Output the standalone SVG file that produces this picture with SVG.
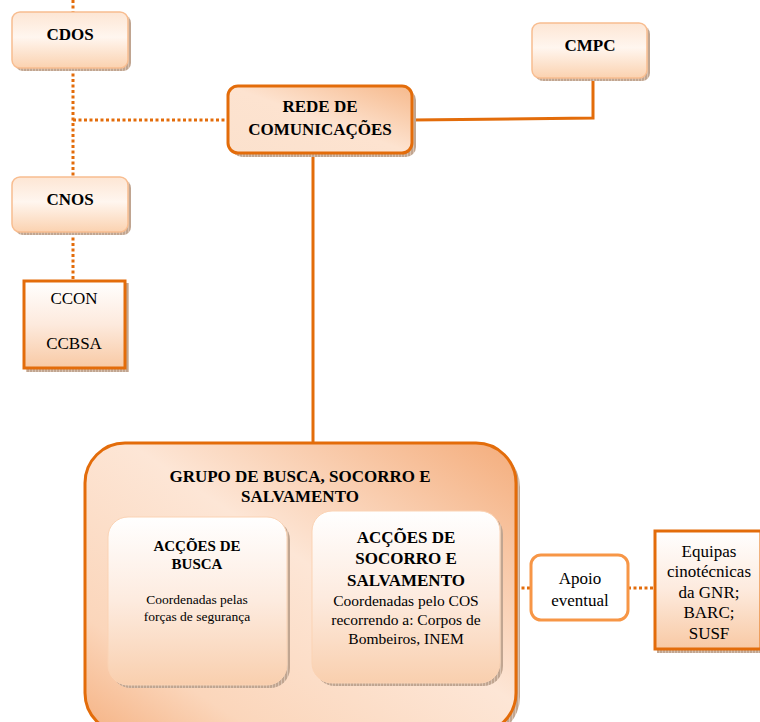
<svg xmlns="http://www.w3.org/2000/svg" width="760" height="722" viewBox="0 0 760 722" font-family="Liberation Serif, DejaVu Serif, serif">
  <defs>
    <linearGradient id="softFill" x1="0" y1="0" x2="0" y2="1">
      <stop offset="0" stop-color="#fde6d4"/>
      <stop offset="0.45" stop-color="#fff6ef"/>
      <stop offset="1" stop-color="#fbd2b0"/>
    </linearGradient>
    <linearGradient id="redeFill" x1="1" y1="0" x2="0" y2="1">
      <stop offset="0" stop-color="#f6b98c"/>
      <stop offset="0.5" stop-color="#fde3d0"/>
      <stop offset="1" stop-color="#fbe1cd"/>
    </linearGradient>
    <linearGradient id="groupFill" x1="1" y1="0" x2="0" y2="1">
      <stop offset="0" stop-color="#f4ad7c"/>
      <stop offset="0.45" stop-color="#fde6d6"/>
      <stop offset="0.8" stop-color="#fbd6bb"/>
      <stop offset="1" stop-color="#f5b283"/>
    </linearGradient>
    <linearGradient id="innerFill" x1="0" y1="0" x2="0" y2="1">
      <stop offset="0" stop-color="#ffffff"/>
      <stop offset="0.5" stop-color="#fdebdf"/>
      <stop offset="1" stop-color="#f9cfae"/>
    </linearGradient>
    <linearGradient id="boxFill" x1="0" y1="0" x2="0" y2="1">
      <stop offset="0" stop-color="#ffffff"/>
      <stop offset="0.5" stop-color="#fdeadd"/>
      <stop offset="1" stop-color="#f8c9a4"/>
    </linearGradient>
    <pattern id="hatch" width="3" height="3" patternUnits="userSpaceOnUse">
      <rect width="3" height="3" fill="#d9c2b0"/>
      <line x1="1" y1="0" x2="1" y2="3" stroke="#9c7a62" stroke-width="0.8"/>
    </pattern>
    <style>
      .shadow { fill: url(#hatch); }
      .soft { fill: url(#softFill); stroke: #f8bd90; stroke-width: 1.5; }
      .strong { stroke: #e36c0a; stroke-width: 3; }
      .dotted { fill: none; stroke: #e36c0a; stroke-width: 3; stroke-dasharray: 3 2.5; }
      .solid { fill: none; stroke: #e36c0a; stroke-width: 3; }
      text { font-family: 'Liberation Serif', 'DejaVu Serif', serif; fill: #000; text-anchor: middle; }
      .b17 { font-size: 17px; font-weight: bold; }
      .b15 { font-size: 15px; font-weight: bold; }
      .n17 { font-size: 17px; }
      .n155 { font-size: 15.5px; }
      .n135 { font-size: 13.5px; }
    </style>
  </defs>

  <g id="connectors">
    <line class="dotted" x1="73" y1="0" x2="73" y2="12"/>
    <line class="dotted" x1="73" y1="68" x2="73" y2="178"/>
    <line class="dotted" x1="73" y1="120" x2="228" y2="120"/>
    <line class="dotted" x1="73" y1="232" x2="73" y2="280"/>
    <polyline class="solid" points="412,120 593,118 593,78"/>
    <line class="solid" x1="313" y1="153" x2="313" y2="443"/>
    <line class="dotted" x1="516" y1="588" x2="531" y2="588"/>
    <line class="dotted" x1="628" y1="588" x2="654" y2="588"/>
  </g>

  <g id="cdos">
    <rect class="shadow" x="15" y="15" width="116" height="56" rx="8"/>
    <rect class="soft" x="12" y="12" width="116" height="56" rx="8"/>
    <text class="b17" x="70" y="40">CDOS</text>
  </g>

  <g id="cnos">
    <rect class="shadow" x="15" y="180" width="116" height="55" rx="8"/>
    <rect class="soft" x="12" y="177" width="116" height="55" rx="8"/>
    <text class="b17" x="70" y="205">CNOS</text>
  </g>

  <g id="cmpc">
    <rect class="shadow" x="535" y="26" width="115" height="55" rx="8"/>
    <rect class="soft" x="532" y="23" width="115" height="55" rx="8"/>
    <text class="b17" x="590" y="51">CMPC</text>
  </g>

  <g id="rede">
    <rect class="shadow" x="232" y="90" width="184" height="67" rx="10"/>
    <rect class="strong" fill="url(#redeFill)" x="228" y="86" width="184" height="67" rx="10"/>
    <text class="b17" x="320" y="112">REDE DE</text>
    <text class="b17" x="320" y="135">COMUNICAÇÕES</text>
  </g>

  <g id="ccon">
    <rect class="shadow" x="26" y="283" width="103" height="89"/>
    <rect class="strong" fill="url(#boxFill)" x="24" y="281" width="101" height="87"/>
    <text class="n17" x="74" y="304">CCON</text>
    <text class="n17" x="74" y="349">CCBSA</text>
  </g>

  <g id="grupo">
    <rect class="shadow" x="89" y="447" width="431" height="290" rx="40"/>
    <rect class="strong" fill="url(#groupFill)" x="85" y="443" width="431" height="290" rx="40"/>
    <text class="b17" x="300" y="482">GRUPO DE BUSCA, SOCORRO E</text>
    <text class="b17" x="300" y="502">SALVAMENTO</text>
  </g>

  <g id="busca">
    <rect class="shadow" x="111" y="520" width="179" height="168" rx="20"/>
    <rect fill="url(#innerFill)" stroke="#fbd3b4" stroke-width="1" x="108" y="517" width="179" height="168" rx="20"/>
    <text class="b15" x="197" y="551">ACÇÕES DE</text>
    <text class="b15" x="197" y="569">BUSCA</text>
    <text class="n135" x="197" y="604">Coordenadas pelas</text>
    <text class="n135" x="197" y="621">forças de segurança</text>
  </g>

  <g id="socorro">
    <rect class="shadow" x="315" y="514" width="188" height="172" rx="20"/>
    <rect fill="url(#innerFill)" stroke="#fbd3b4" stroke-width="1" x="312" y="511" width="188" height="172" rx="20"/>
    <text class="b17" x="406" y="543">ACÇÕES DE</text>
    <text class="b17" x="406" y="564">SOCORRO E</text>
    <text class="b17" x="406" y="586">SALVAMENTO</text>
    <text class="n155" x="406" y="606">Coordenadas pelo COS</text>
    <text class="n155" x="406" y="625">recorrendo a: Corpos de</text>
    <text class="n155" x="406" y="644">Bombeiros, INEM</text>
  </g>

  <g id="apoio">
    <rect fill="#ffffff" stroke="#f79646" stroke-width="3" x="531" y="555" width="97" height="65" rx="10"/>
    <text class="n17" x="580" y="584">Apoio</text>
    <text class="n17" x="580" y="606">eventual</text>
  </g>

  <g id="equipas">
    <rect class="shadow" x="657" y="533" width="106" height="120"/>
    <rect class="strong" fill="url(#boxFill)" x="655" y="531" width="106" height="118"/>
    <text class="n17" x="709" y="557">Equipas</text>
    <text class="n17" x="709" y="577">cinotécnicas</text>
    <text class="n17" x="709" y="598">da GNR;</text>
    <text class="n17" x="709" y="618">BARC;</text>
    <text class="n17" x="709" y="639">SUSF</text>
  </g>
</svg>
